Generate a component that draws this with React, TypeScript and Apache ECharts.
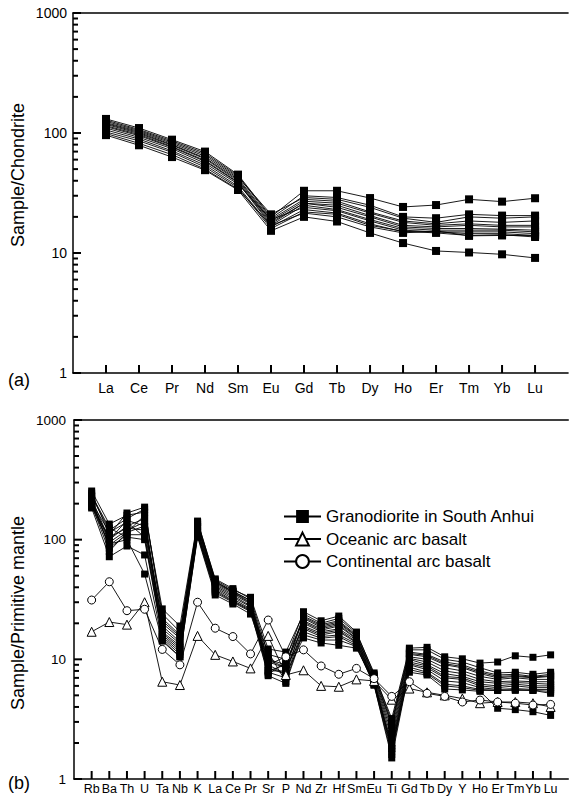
import React, { useEffect, useRef } from 'react';
import * as echarts from 'echarts';

const FONT = 'Liberation Sans, Arial, Helvetica, sans-serif';

const GRANO = 'Granodiorite in South Anhui';
const OCEANIC = 'Oceanic arc basalt';
const CONTINENTAL = 'Continental arc basalt';

// (a) chondrite-normalised REE
const REE = ['La', 'Ce', 'Pr', 'Nd', 'Sm', 'Eu', 'Gd', 'Tb', 'Dy', 'Ho', 'Er', 'Tm', 'Yb', 'Lu'];
const REE_AXIS = ['', ...REE, ' '];
const chondriteSamples: number[][] = [
  [131, 110, 88, 70, 45, 20, 33, 33, 28.7, 24.2, 25.1, 28, 26.8, 28.6],
  [128, 107, 86, 68, 44, 19.5, 30, 29, 25, 20, 19.5, 21, 20.5, 20.5],
  [125, 105, 84, 66, 43, 21, 29, 28, 24, 19.5, 18, 20, 19.5, 20],
  [122, 103, 82, 64, 42, 19, 28, 27, 22, 18.5, 17.5, 18.5, 18, 18.5],
  [120, 101, 80, 62, 41, 18.5, 27, 26, 21.5, 18, 17, 17.5, 17, 17],
  [118, 99, 79, 61, 40, 18, 26, 25, 20.5, 17, 16.5, 17, 16.5, 16.5],
  [115, 97, 77, 59, 39, 17.5, 26, 24, 20, 16.5, 16, 16, 15.8, 15.5],
  [113, 95, 76, 58, 38.5, 17, 25, 23, 19, 16, 15.5, 15.5, 15.5, 15],
  [110, 92, 74, 56, 37.5, 19, 24, 22.5, 18.5, 15.5, 15, 15, 15, 14.5],
  [106, 89, 71, 54, 36, 16.5, 23, 21.5, 17.5, 15, 15, 14.5, 14.5, 14],
  [102, 86, 69, 52, 35, 16, 22, 21, 17, 15.2, 14.7, 14, 14.2, 13.6],
  [99, 82, 66, 50, 34, 17, 21.5, 20, 16.5, 14.7, 15.3, 13.9, 14, 14],
  [96, 79, 63, 49, 33.5, 15.3, 20, 18.3, 14.7, 12.1, 10.4, 10.1, 9.75, 9.1],
];

// (b) primitive-mantle-normalised spider diagram
const SPIDER = ['Rb', 'Ba', 'Th', 'U', 'Ta', 'Nb', 'K', 'La', 'Ce', 'Pr', 'Sr', 'P', 'Nd', 'Zr', 'Hf', 'Sm', 'Eu', 'Ti', 'Gd', 'Tb', 'Dy', 'Y', 'Ho', 'Er', 'Tm', 'Yb', 'Lu'];
const SPIDER_AXIS = ['', ...SPIDER, ' '];
const mantleSamples: number[][] = [
  [230, 120, 150, 180, 24, 17, 140, 47, 39, 32, 11, 10, 25, 21, 23, 16.9, 7.5, 3.2, 12.4, 12.6, 10.5, 10.1, 9.3, 9.5, 10.7, 10.4, 10.9],
  [255, 135, 160, 170, 26.4, 19, 143, 46, 38, 33, 12.2, 11.5, 24, 20, 22, 16.5, 7.7, 3.0, 12, 12, 10, 9.5, 8.5, 7.7, 7.8, 7.5, 7.8],
  [245, 110, 167, 187, 22, 16, 135, 45, 37, 31, 10, 9, 23, 19.5, 21, 16, 7.2, 2.8, 11.5, 11, 9.5, 9, 8, 7.4, 7.5, 7.2, 7.5],
  [220, 100, 130, 150, 20, 15, 130, 44, 36.5, 30, 9.5, 8.5, 22, 18.5, 20, 15.5, 7.0, 2.6, 11, 10.5, 9, 8.5, 7.6, 7, 7.2, 7, 7.2],
  [210, 95, 120, 140, 19, 14, 128, 43, 36, 29.5, 9, 10.5, 21, 18, 19.5, 15, 6.8, 2.4, 10.5, 10, 8.5, 8, 7.2, 6.8, 7, 6.8, 6.8],
  [200, 90, 115, 130, 18, 13.5, 125, 42, 35, 29, 8.5, 7.5, 20.5, 17.5, 19, 14.8, 6.6, 2.2, 10.2, 9.5, 8, 7.6, 6.8, 6.5, 6.6, 6.5, 6.5],
  [190, 105, 125, 120, 17, 13, 120, 41, 34, 28, 8, 8, 20, 17, 18, 14.5, 6.5, 2.0, 10, 9, 7.6, 7.2, 6.5, 6.3, 6.4, 6.3, 6.2],
  [215, 85, 110, 110, 16.5, 12.5, 118, 40, 33, 27.5, 7.8, 7, 19, 16.5, 17.5, 14, 6.4, 1.9, 9.5, 8.8, 7.2, 7, 6.2, 6, 6.2, 6, 6.0],
  [205, 115, 140, 105, 16, 12, 115, 39, 32, 26.5, 7.5, 9.5, 18.5, 16, 17, 13.8, 6.3, 1.8, 9.2, 8.5, 7, 6.8, 6, 5.8, 6, 5.8, 5.8],
  [235, 125, 105, 100, 15.5, 11.5, 112, 38, 31, 26, 11.5, 6.5, 18, 15.5, 16, 13.5, 6.2, 1.7, 9, 8.2, 6.6, 6.4, 5.8, 5.6, 5.7, 5.6, 5.6],
  [195, 80, 115, 160, 15, 11, 110, 37, 30.5, 25.5, 7.3, 6.3, 17, 15, 15.5, 13, 6.1, 1.6, 8.6, 7.8, 6.2, 6, 5.6, 5.5, 5.6, 5.5, 5.4],
  [184, 72, 88.5, 74.5, 14.5, 10.5, 108, 36, 30, 25, 10, 8.5, 16, 14.5, 14.5, 12.8, 6.1, 1.5, 8.2, 7.6, 6, 5.8, 5.5, 5.5, 5.5, 5.5, 5.2],
  [188, 92, 100, 51.6, 14.2, 10.5, 105, 34.5, 29, 23.9, 9, 7.5, 15.1, 13.7, 13.1, 12.4, 6.5, 1.8, 7.8, 7.4, 5.65, 5.55, 5.4, 3.9, 3.8, 3.65, 3.4],
  [200, 100, 145, 130, 21, 15.5, 138, 44.5, 37, 31, 8, 9, 22.5, 19, 20.5, 15.7, 7.3, 2.9, 11.2, 10.8, 9.2, 8.7, 7.8, 7.2, 7.3, 7.1, 7.3],
];
const oceanicArcBasalt = [17, 20.5, 19.5, 30, 6.5, 6.1, 15.7, 10.9, 9.6, 8.4, 15.7, 7.4, 8.1, 6.0, 5.9, 6.8, 6.6, 4.6, 5.7, 5.3, 5.0, 4.7, 4.3, 4.4, 4.4, 4.3, 4.0];
const continentalArcBasalt = [31.3, 44.5, 25.5, 26.2, 12.1, 9.0, 30, 18.2, 15.5, 11.1, 21.3, 10.5, 12, 8.8, 7.5, 8.4, 6.9, 4.9, 6.5, 5.2, 4.9, 4.4, 4.57, 4.4, 4.3, 4.15, 4.2];

const Y_MIN = 1;
const Y_MAX = 1000;
const Y_MAJOR_TICKS = [1, 10, 100, 1000];
const Y_MINOR_TICKS = [2, 3, 4, 5, 6, 7, 8, 9, 20, 30, 40, 50, 60, 70, 80, 90, 200, 300, 400, 500, 600, 700, 800, 900];

function yAxis(gridIndex: number, fontSize: number, margin: number) {
  return {
    type: 'log',
    logBase: 10,
    gridIndex,
    position: 'left',
    min: Y_MIN,
    max: Y_MAX,
    axisLine: { show: true, lineStyle: { color: '#000', width: 1.5 } },
    axisTick: { show: false },
    splitLine: { show: false },
    axisLabel: { color: '#000', fontSize, fontFamily: FONT, margin, formatter: (v: number) => String(v) },
  };
}

function xAxis(gridIndex: number, data: string[], fontSize: number, margin: number) {
  return {
    type: 'category',
    gridIndex,
    position: 'bottom',
    data,
    boundaryGap: false,
    axisLine: { show: true, lineStyle: { color: '#000', width: 1.5 } },
    axisTick: { show: false },
    axisLabel: { color: '#000', fontSize, fontFamily: FONT, margin, interval: 0 },
    splitLine: { show: false },
  };
}

function topFrame(gridIndex: number) {
  return {
    type: 'value',
    gridIndex,
    position: 'top',
    min: 0,
    max: 1,
    axisLine: { show: true, lineStyle: { color: '#000', width: 1.5 } },
    axisTick: { show: false },
    axisLabel: { show: false },
    splitLine: { show: false },
  };
}

export default function App() {
  const ref = useRef<HTMLDivElement>(null);
  useEffect(() => {
    if (!ref.current) return;
    const chart = echarts.init(ref.current, undefined, { renderer: 'svg' });
    const series: any[] = [];
    chondriteSamples.forEach((vals) => {
      series.push({
        type: 'line', name: GRANO, xAxisIndex: 0, yAxisIndex: 0,
        data: REE.map((el, i) => [el, vals[i]]),
        symbol: 'rect', symbolSize: 8,
        lineStyle: { color: '#000', width: 0.9 },
        itemStyle: { color: '#000' },
        silent: true,
      });
    });
    mantleSamples.forEach((vals) => {
      series.push({
        type: 'line', name: GRANO, xAxisIndex: 1, yAxisIndex: 1,
        data: SPIDER.map((el, i) => [el, vals[i]]),
        symbol: 'rect', symbolSize: 7,
        lineStyle: { color: '#000', width: 0.9 },
        itemStyle: { color: '#000' },
        silent: true,
      });
    });
    series.push({
      type: 'line', name: OCEANIC, xAxisIndex: 1, yAxisIndex: 1,
      data: SPIDER.map((el, i) => [el, oceanicArcBasalt[i]]),
      symbol: 'triangle', symbolSize: 9,
      lineStyle: { color: '#000', width: 0.9 },
      itemStyle: { color: '#fff', borderColor: '#000', borderWidth: 1 },
      silent: true,
    });
    series.push({
      type: 'line', name: CONTINENTAL, xAxisIndex: 1, yAxisIndex: 1,
      data: SPIDER.map((el, i) => [el, continentalArcBasalt[i]]),
      symbol: 'circle', symbolSize: 8,
      lineStyle: { color: '#000', width: 0.9 },
      itemStyle: { color: '#fff', borderColor: '#000', borderWidth: 1 },
      silent: true,
    });

    const titleStyle = (text: string) => ({
      text, fontSize: 18, fontFamily: FONT, fill: '#000',
      align: 'center', verticalAlign: 'middle',
      textAlign: 'center', textVerticalAlign: 'middle',
    });
    const texts: any[] = [
      { type: 'text', x: 18, y: 175, rotation: Math.PI / 2, style: titleStyle('Sample/Chondrite') },
      { type: 'text', x: 18, y: 613, rotation: Math.PI / 2, style: titleStyle('Sample/Primitive mantle') },
      { type: 'text', x: 19, y: 380, style: titleStyle('(a)') },
      { type: 'text', x: 19, y: 783, style: titleStyle('(b)') },
    ];

    chart.setOption({
      animation: false,
      backgroundColor: '#fff',
      textStyle: { fontFamily: FONT },
      grid: [
        { left: 73, top: 13, width: 503, height: 360 },
        { left: 74, top: 420, width: 503, height: 359 },
      ],
      xAxis: [xAxis(0, REE_AXIS, 14, 8), xAxis(1, SPIDER_AXIS, 12.5, 3), topFrame(0), topFrame(1)],
      yAxis: [yAxis(0, 14, 6), yAxis(1, 13.5, 8)],
      legend: {
        data: [GRANO, OCEANIC, CONTINENTAL],
        orient: 'vertical',
        left: 283,
        top: 508,
        padding: 0,
        itemWidth: 37,
        itemHeight: 16,
        itemGap: 5.5,
        selectedMode: false,
        textStyle: { color: '#000', fontSize: 17, fontFamily: FONT },
      },
      graphic: texts,
      series,
    });

    // tick marks: positions come from the chart's own axis scales via convertToPixel
    const tickLine = (x1: number, y1: number, x2: number, y2: number) => ({
      type: 'line',
      silent: true,
      z: 10,
      shape: { x1, y1, x2, y2 },
      style: { stroke: '#000', lineWidth: 2 },
    });
    const ticks: any[] = [];
    const panels: [number, string[]][] = [[0, REE], [1, SPIDER]];
    panels.forEach(([k, cats]) => {
      const finder = { xAxisIndex: k, yAxisIndex: k };
      cats.forEach((el) => {
        const p = chart.convertToPixel(finder as any, [el, Y_MIN]) as number[];
        if (p) ticks.push(tickLine(p[0], p[1], p[0], p[1] - 8));
      });
      Y_MAJOR_TICKS.forEach((v) => {
        const p = chart.convertToPixel(finder as any, [0, v]) as number[];
        if (p) ticks.push(tickLine(p[0], p[1], p[0] + 8, p[1]));
      });
      Y_MINOR_TICKS.forEach((v) => {
        const p = chart.convertToPixel(finder as any, [0, v]) as number[];
        if (p) ticks.push(tickLine(p[0], p[1], p[0] + 5, p[1]));
      });
    });
    chart.setOption({ graphic: [...texts, ...ticks] });

    return () => chart.dispose();
  }, []);
  return <div ref={ref} style={{ position: 'absolute', left: 0, top: 0, width: 573, height: 802 }} />;
}
